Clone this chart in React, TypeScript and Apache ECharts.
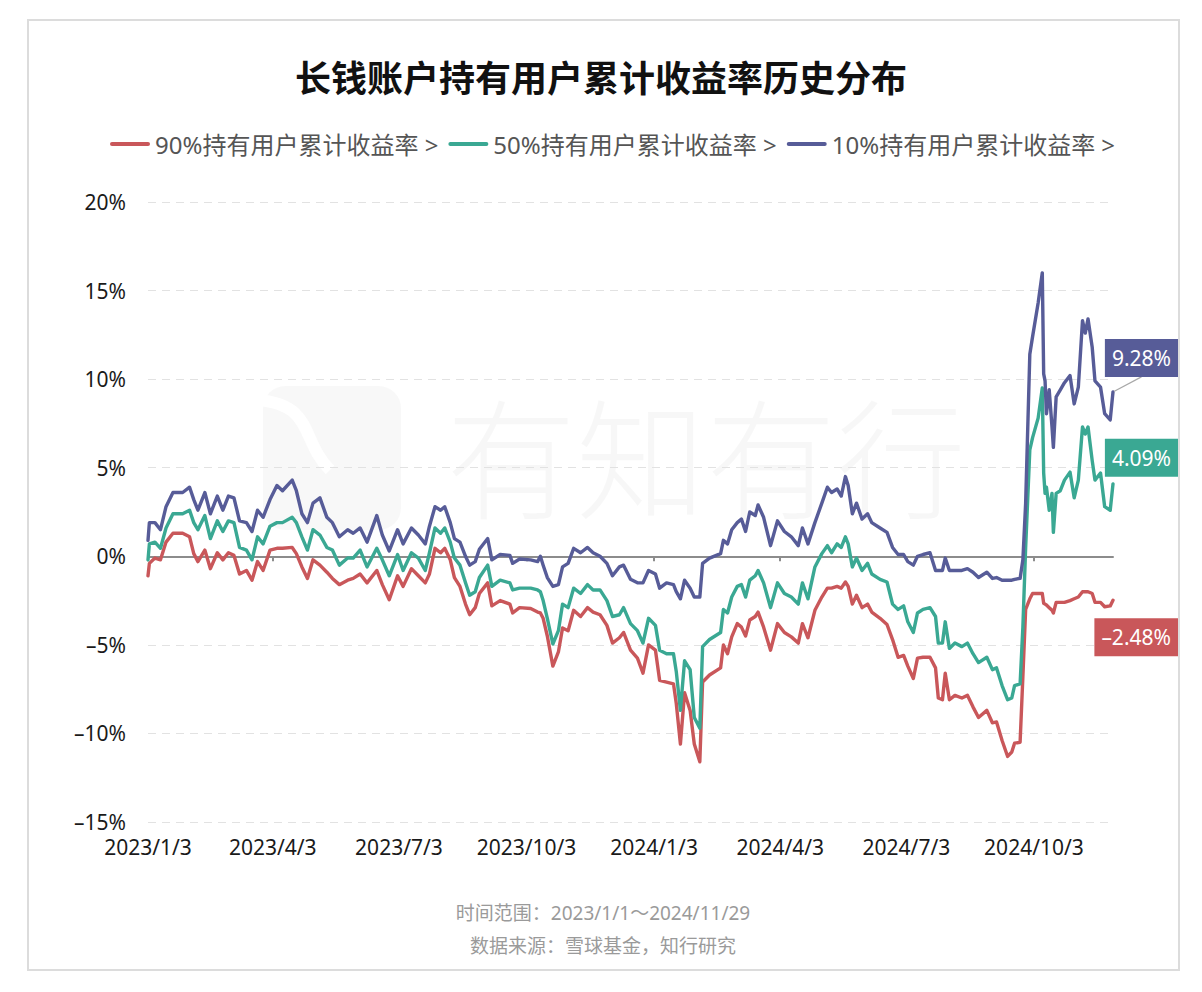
import React, { useEffect, useRef } from 'react';
import * as echarts from 'echarts';

const titleText = '长钱账户持有用户累计收益率历史分布';
const seriesNames = ['90%持有用户累计收益率 >', '50%持有用户累计收益率 >', '10%持有用户累计收益率 >'];
const seriesColors = ['#c9575a', '#3aa893', '#575c98'];
const footerLines = ['时间范围：2023/1/1～2024/11/29', '数据来源：雪球基金，知行研究'];
const tickLabels = ['2023/1/3', '2023/4/3', '2023/7/3', '2023/10/3', '2024/1/3', '2024/4/3', '2024/7/3', '2024/10/3'];
const firstDay = '2023/1/3';
const lastDay = '2024/11/29';

const sampleDates = [
  '2023/1/3','2023/1/4','2023/1/8','2023/1/12','2023/1/16','2023/1/21','2023/1/28','2023/2/2','2023/2/5','2023/2/8',
  '2023/2/13','2023/2/17','2023/2/22','2023/2/26','2023/3/2','2023/3/6','2023/3/10','2023/3/15','2023/3/19','2023/3/23',
  '2023/3/27','2023/4/1','2023/4/6','2023/4/10','2023/4/17','2023/4/20','2023/4/24','2023/4/28','2023/5/2','2023/5/7',
  '2023/5/12','2023/5/16','2023/5/21','2023/5/27','2023/5/31','2023/6/5','2023/6/10','2023/6/17','2023/6/21','2023/6/26',
  '2023/7/2','2023/7/6','2023/7/12','2023/7/17','2023/7/22','2023/7/25','2023/7/29','2023/8/2','2023/8/5','2023/8/9',
  '2023/8/12','2023/8/16','2023/8/20','2023/8/23','2023/8/27','2023/8/30','2023/9/5','2023/9/8','2023/9/14','2023/9/21',
  '2023/9/23','2023/9/28','2023/10/6','2023/10/11','2023/10/13','2023/10/15','2023/10/18','2023/10/22','2023/10/26','2023/10/29',
  '2023/11/2','2023/11/6','2023/11/11','2023/11/16','2023/11/20','2023/11/25','2023/11/30','2023/12/4','2023/12/9','2023/12/12',
  '2023/12/17','2023/12/22','2023/12/26','2023/12/30','2024/1/4','2024/1/7','2024/1/12','2024/1/17','2024/1/19','2024/1/22',
  '2024/1/25','2024/1/29','2024/2/1','2024/2/5','2024/2/7','2024/2/12','2024/2/20','2024/2/22','2024/2/25','2024/2/28',
  '2024/3/3','2024/3/6','2024/3/9','2024/3/12','2024/3/16','2024/3/18','2024/3/22','2024/3/27','2024/4/1','2024/4/6',
  '2024/4/11','2024/4/16','2024/4/19','2024/4/23','2024/4/28','2024/5/3','2024/5/7','2024/5/10','2024/5/14','2024/5/17',
  '2024/5/20','2024/5/22','2024/5/25','2024/5/28','2024/6/1','2024/6/5','2024/6/8','2024/6/14','2024/6/19','2024/6/23',
  '2024/6/27','2024/7/1','2024/7/4','2024/7/8','2024/7/11','2024/7/15','2024/7/20','2024/7/24','2024/7/26','2024/7/29',
  '2024/7/31','2024/8/3','2024/8/7','2024/8/12','2024/8/16','2024/8/20','2024/8/24','2024/8/30','2024/9/3','2024/9/6',
  '2024/9/10','2024/9/14','2024/9/17','2024/9/19','2024/9/23','2024/9/25','2024/9/27','2024/9/30','2024/10/2','2024/10/6',
  '2024/10/9','2024/10/10','2024/10/11','2024/10/12','2024/10/14','2024/10/16','2024/10/17','2024/10/19','2024/10/22','2024/10/25',
  '2024/10/29','2024/11/1','2024/11/4','2024/11/7','2024/11/9','2024/11/11','2024/11/14','2024/11/16','2024/11/20','2024/11/23',
  '2024/11/27','2024/11/29'
];

const p10 = [
  0.9, 1.9, 1.9, 1.5, 2.8, 3.6, 3.6, 3.9, 3.2, 2.6,
  3.6, 2.4, 3.4, 2.6, 3.4, 3.3, 2.0, 1.9, 1.4, 2.6,
  2.2, 3.2, 4.0, 3.7, 4.3, 3.7, 2.4, 1.9, 3.0, 3.3,
  2.2, 1.9, 1.1, 1.5, 1.3, 1.6, 0.8, 2.3, 1.2, 0.3,
  1.5, 0.7, 1.6, 1.2, 0.7, 1.7, 2.8, 2.6, 2.8, 1.9,
  1.0, 0.8, 0.0, -0.5, -0.3, 0.4, 1.0, -0.2, 0.1, 0.05,
  -0.4, -0.15, -0.2, -0.3, 0.0, -0.5, -1.2, -1.7, -1.6, -0.6,
  -0.4, 0.45, 0.2, 0.5, 0.2, 0.0, -0.4, -1.1, -0.6, -0.5,
  -1.3, -1.5, -1.5, -0.8, -1.0, -1.8, -1.5, -1.6, -2.0, -2.4,
  -1.35, -1.8, -2.3, -2.3, -0.4, -0.1, 0.15, 0.9, 0.7, 1.5,
  1.9, 2.1, 1.4, 2.5, 2.3, 2.9, 2.2, 0.6, 2.0, 1.4,
  1.1, 0.6, 1.6, 0.7, 1.9, 3.0, 3.9, 3.6, 3.8, 3.4,
  4.5, 4.0, 2.4, 3.0, 2.1, 2.4, 1.9, 1.6, 1.35, 0.5,
  0.1, 0.1, -0.3, -0.5, 0.0, 0.1, 0.2, -0.8, -0.8, -0.8,
  -0.1, -0.8, -0.8, -0.8, -0.7, -0.9, -1.2, -0.9, -1.25, -1.2,
  -1.35, -1.35, -1.35, -1.3, -1.25, -0.2, 3.0, 11.4, 12.4, 14.3,
  16.0, 10.3, 9.9, 8.05, 9.4, 7.3, 6.15, 9.0, 9.4, 9.8,
  10.2, 8.6, 9.55, 13.3, 12.6, 13.4, 11.8, 9.9, 9.55, 8.05,
  7.7, 9.28
];

const p50 = [
  -0.2, 0.7, 0.8, 0.45, 1.6, 2.4, 2.4, 2.6, 1.9, 1.5,
  2.3, 1.0, 2.0, 1.4, 2.0, 1.9, 0.5, 0.35, -0.2, 1.1,
  0.7, 1.7, 1.9, 1.9, 2.2, 1.9, 1.1, 0.35, 1.5, 1.2,
  0.5, 0.35, -0.5, -0.1, -0.1, 0.35, -0.6, 0.45, -0.2, -1.1,
  0.1, -0.8, 0.2, -0.1, -0.8, 0.2, 1.6, 1.3, 1.6, 0.8,
  -0.1, -0.5, -1.5, -2.2, -2.0, -1.2, -0.5, -1.7, -1.35, -1.5,
  -1.9, -1.8, -1.8, -1.9, -2.0, -2.5, -3.5, -4.95, -4.2, -2.7,
  -2.9, -1.8, -2.1, -1.6, -1.9, -1.9, -2.5, -3.4, -3.3, -2.9,
  -3.8, -4.2, -4.9, -3.5, -3.9, -5.3, -5.5, -5.5, -6.5, -8.7,
  -5.9, -6.4, -9.1, -9.7, -5.1, -4.7, -4.3, -3.0, -3.2, -2.3,
  -1.7, -1.6, -2.3, -1.35, -1.1, -0.8, -1.5, -2.9, -1.5, -2.1,
  -2.3, -2.7, -1.5, -2.4, -0.6, 0.15, 0.6, 0.2, 0.7, 0.5,
  1.1, 0.7, -0.6, -0.1, -0.8, -0.4, -1.0, -1.3, -1.45, -2.7,
  -3.0, -2.8, -3.7, -4.3, -3.2, -3.0, -2.9, -3.4, -4.9, -4.9,
  -3.7, -5.2, -4.9, -5.1, -4.9, -5.5, -6.0, -5.7, -6.4, -6.3,
  -7.3, -8.1, -8.0, -7.3, -7.2, -4.0, 0.5, 6.0, 6.7, 7.8,
  9.5, 4.7, 3.55, 3.9, 2.6, 3.55, 1.35, 3.55, 3.7, 4.3,
  4.75, 3.3, 4.3, 7.3, 6.9, 7.3, 5.4, 4.3, 4.7, 2.8,
  2.6, 4.09
];

const p90 = [
  -1.1, -0.4, -0.1, -0.2, 0.8, 1.3, 1.3, 1.1, 0.15, -0.3,
  0.35, -0.7, 0.2, -0.2, 0.2, 0.05, -1.0, -0.8, -1.35, -0.3,
  -0.8, 0.35, 0.45, 0.45, 0.5, 0.15, -0.6, -1.25, -0.2, -0.5,
  -0.9, -1.25, -1.6, -1.35, -1.25, -1.0, -1.5, -0.8, -1.6, -2.45,
  -1.1, -1.7, -0.7, -1.1, -1.5, -1.0, 0.45, 0.2, 0.45, -0.2,
  -1.2, -1.7, -2.7, -3.3, -2.9, -2.1, -1.5, -2.8, -2.5, -2.7,
  -3.2, -2.9, -2.95, -3.15, -3.2, -3.5, -4.5, -6.2, -5.4, -4.05,
  -4.2, -3.05, -3.4, -2.9, -3.15, -3.3, -3.9, -4.9, -4.6, -4.3,
  -5.3, -5.75, -6.6, -5.0, -5.3, -7.0, -7.1, -7.2, -8.3, -10.6,
  -7.7, -8.7, -10.6, -11.6, -7.1, -6.7, -6.3, -5.0, -5.5, -4.55,
  -3.8, -4.0, -4.5, -3.6, -3.4, -3.15, -4.0, -5.3, -3.8, -4.3,
  -4.55, -4.9, -3.8, -4.6, -3.05, -2.3, -1.8, -1.8, -1.7, -1.8,
  -1.45, -1.7, -2.7, -2.2, -2.9, -2.7, -3.15, -3.5, -3.85, -4.7,
  -5.7, -5.6, -6.2, -6.9, -5.75, -5.7, -5.7, -6.3, -8.0, -8.1,
  -6.6, -8.1, -7.85, -8.0, -7.85, -8.5, -9.1, -8.7, -9.4, -9.35,
  -10.4, -11.3, -11.05, -10.55, -10.5, -6.8, -3.0, -2.4, -2.1, -2.1,
  -2.1, -2.65, -2.7, -2.75, -2.9, -3.05, -3.2, -2.6, -2.6, -2.6,
  -2.5, -2.4, -2.3, -2.0, -2.0, -2.0, -2.1, -2.6, -2.6, -2.85,
  -2.8, -2.48
];

const labelDy = [37, -26, -34];
const showGuide = [false, false, true];

const LATIN = "'Noto Sans', 'Noto Sans CJK SC', sans-serif";
const CJK = "'Noto Sans CJK SC', 'Noto Sans', sans-serif";

function buildDays(start: string, end: string): string[] {
  const [sy, sm, sd] = start.split('/').map(Number);
  const [ey, em, ed] = end.split('/').map(Number);
  const cur = new Date(Date.UTC(sy, sm - 1, sd));
  const stop = Date.UTC(ey, em - 1, ed);
  const out: string[] = [];
  while (cur.getTime() <= stop) {
    out.push(`${cur.getUTCFullYear()}/${cur.getUTCMonth() + 1}/${cur.getUTCDate()}`);
    cur.setUTCDate(cur.getUTCDate() + 1);
  }
  return out;
}

const pct = (v: number, digits?: number) =>
  (v < 0 ? '–' : '') + (digits == null ? String(Math.abs(v)) : Math.abs(v).toFixed(digits)) + '%';

export default function App() {
  const ref = useRef<HTMLDivElement>(null);

  useEffect(() => {
    if (!ref.current) return;
    const chart = echarts.init(ref.current, null, { renderer: 'svg' });
    const days = buildDays(firstDay, lastDay);
    const isTick = (_i: number, v: string) => tickLabels.indexOf(v) >= 0;
    const allValues = [p90, p50, p10];

    const series = allValues.map((vals, s) => {
      const color = seriesColors[s];
      const dy = labelDy[s];
      return {
        type: 'line',
        name: seriesNames[s],
        xAxisIndex: 0,
        yAxisIndex: 0,
        clip: false,
        symbol: 'none',
        showSymbol: true,
        showAllSymbol: true,
        lineStyle: { width: 3.4, color, join: 'round', cap: 'round' },
        itemStyle: { color },
        emphasis: { disabled: true },
        label: {
          show: false,
          formatter: (p: any) => pct(p.value[1], 2),
          color: '#fff',
          backgroundColor: color,
          padding: [9, 7, 8, 7],
          fontSize: 21,
          fontFamily: LATIN,
        },
        labelLine: { show: showGuide[s], lineStyle: { color: '#a8a8a8', width: 1.2 } },
        labelLayout: (params: any) => ({
          x: 1178,
          y: params.rect.y + params.rect.height / 2 + dy,
          align: 'right',
          verticalAlign: 'middle',
        }),
        data: vals.map((v, i) => {
          const idx = days.indexOf(sampleDates[i]);
          if (i === vals.length - 1) {
            return { value: [idx, v], symbol: 'circle', symbolSize: 2, label: { show: true } };
          }
          return [idx, v];
        }),
      };
    });

    chart.setOption({
      animation: false,
      backgroundColor: '#fff',
      title: {
        text: titleText,
        left: 'center',
        top: 53,
        textStyle: { fontSize: 36, fontWeight: 'bold', color: '#111', fontFamily: CJK },
      },
      legend: {
        top: 127,
        left: 105,
        itemWidth: 40,
        itemHeight: 4,
        itemGap: 10,
        icon: 'path://M2,0 L38,0 A2,2 0 0 1 38,4 L2,4 A2,2 0 0 1 2,0 Z',
        textStyle: { fontSize: 24, color: '#555', fontFamily: LATIN },
        data: seriesNames,
      },
      grid: { left: 148, right: 89, top: 202, bottom: 170 },
      xAxis: [
        {
          type: 'category',
          data: days,
          boundaryGap: false,
          position: 'bottom',
          axisLine: { show: false, onZero: false },
          axisTick: { show: false },
          splitLine: { show: false },
          axisLabel: {
            interval: isTick,
            margin: 14,
            fontSize: 21,
            color: '#1a1a1a',
            fontFamily: LATIN,
          },
        },
        {
          type: 'category',
          data: days,
          boundaryGap: false,
          position: 'top',
          axisLine: { show: true, onZero: true, lineStyle: { color: '#8c8c8c', width: 2 } },
          axisTick: {
            show: true,
            inside: true,
            length: 5,
            interval: isTick,
            lineStyle: { color: '#8c8c8c', width: 2 },
          },
          axisLabel: { show: false },
          splitLine: { show: false },
        },
      ],
      yAxis: {
        type: 'value',
        min: -15,
        max: 20,
        interval: 5,
        axisLine: { show: false },
        axisTick: { show: false },
        axisLabel: {
          formatter: (v: number) => pct(v),
          fontSize: 21,
          color: '#1a1a1a',
          margin: 22,
          fontFamily: LATIN,
        },
        splitLine: { show: true, lineStyle: { type: [8, 6], color: '#e2e2e2', width: 1 } },
      },
      graphic: [
        {
          type: 'rect',
          silent: true,
          z: -10,
          shape: { x: 263, y: 386, width: 138, height: 144, r: 22 },
          style: { fill: 'rgba(0,0,0,0.028)' },
        },
        {
          type: 'bezierCurve',
          silent: true,
          z: -9,
          shape: { x1: 258, y1: 400, cpx1: 315, cpy1: 405, cpx2: 300, cpy2: 440, x2: 330, y2: 470 },
          style: { stroke: '#fff', lineWidth: 12, fill: 'none' },
        },
        {
          type: 'text',
          silent: true,
          z: -10,
          x: 706,
          y: 452,
          style: {
            text: '有知有行',
            fontSize: 130,
            fontWeight: 300,
            fontFamily: CJK,
            fill: 'rgba(0,0,0,0.03)',
            align: 'center',
            verticalAlign: 'middle',
          },
        },
        {
          type: 'rect',
          silent: true,
          shape: { x: 28, y: 20, width: 1151, height: 950 },
          style: { fill: 'none', stroke: '#dcdcdc', lineWidth: 2 },
        },
        ...footerLines.map((t, i) => ({
          type: 'text',
          silent: true,
          x: 603,
          y: 913 + i * 33,
          style: {
            text: t,
            fontSize: 19,
            fill: '#9a9a9a',
            fontFamily: LATIN,
            align: 'center',
            verticalAlign: 'middle',
          },
        })),
      ],
      series,
    });

    return () => chart.dispose();
  }, []);

  return (
    <div
      ref={ref}
      style={{ position: 'fixed', left: 0, top: 0, width: 1202, height: 992, background: '#fff' }}
    />
  );
}
